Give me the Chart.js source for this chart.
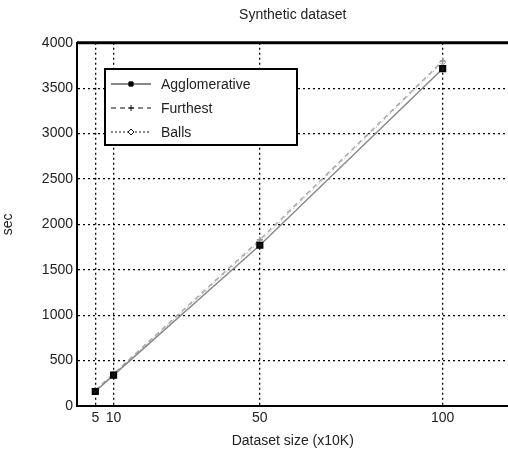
<!DOCTYPE html>
<html>
<head>
  <title>Synthetic dataset</title>
  <script src="https://cdn.jsdelivr.net/npm/chart.js"></script>
  <style>
    html, body { margin: 0; background: #fff; overflow: hidden; }
    /* plot runs off the right edge, as in the cropped original */
    #wrap { width: 514px; height: 450px; }
  </style>
</head>
<body>
  <div id="wrap"><canvas id="chart"></canvas></div>

  <script>
    // values
    const sizes = [5, 10, 50, 100];
    const agglomerative = [160, 340, 1770, 3715];
    const furthest = [175, 355, 1830, 3800];
    const balls = [170, 350, 1810, 3785];
    const xTicks = [5, 10, 50, 100];

    const toPoints = ys => sizes.map((x, i) => ({ x: x, y: ys[i] }));

    // legend drawn inside the plot, like the original figure
    const boxLegend = {
      id: 'boxLegend',
      afterDatasetsDraw(chart) {
        const ctx = chart.ctx;
        const x0 = 105, y0 = 69, w = 192, h = 76;
        ctx.save();
        ctx.fillStyle = '#fff';
        ctx.fillRect(x0, y0, w, h);
        ctx.strokeStyle = '#000';
        ctx.lineWidth = 2;
        ctx.strokeRect(x0, y0, w, h);
        chart.data.datasets.forEach((ds, i) => {
          const y = y0 + 15 + i * 24;
          ctx.strokeStyle = '#111';
          ctx.lineWidth = 1;
          ctx.setLineDash(ds.borderDash || []);
          ctx.beginPath();
          ctx.moveTo(x0 + 6, y);
          ctx.lineTo(x0 + 46, y);
          ctx.stroke();
          ctx.setLineDash([]);
          ctx.fillStyle = i === 0 ? '#000' : '#fff';
          Chart.helpers.drawPoint(ctx, {
            pointStyle: ds.pointStyle, radius: 3, borderWidth: 1, rotation: 0
          }, x0 + 26, y);
          ctx.fillStyle = '#222';
          ctx.font = '14px "Liberation Sans", Arial, sans-serif';
          ctx.textBaseline = 'middle';
          ctx.fillText(ds.label, x0 + 56, y + 1);
        });
        ctx.restore();
      }
    };

    // thick top frame line
    const topFrame = {
      id: 'topFrame',
      afterDraw(chart) {
        const a = chart.chartArea, ctx = chart.ctx;
        ctx.save();
        ctx.strokeStyle = '#000';
        ctx.lineWidth = 3;
        ctx.beginPath();
        ctx.moveTo(a.left, a.top);
        ctx.lineTo(chart.width, a.top);
        ctx.stroke();
        ctx.restore();
      }
    };

    Chart.defaults.font.family = '"Liberation Sans", Arial, sans-serif';
    Chart.defaults.color = '#222';

    new Chart(document.getElementById('chart'), {
      type: 'line',
      data: {
        datasets: [
          {
            label: 'Agglomerative',
            data: toPoints(agglomerative),
            borderColor: '#8a8a8a',
            borderWidth: 1.5,
            pointStyle: 'rect',
            pointRadius: 4,
            pointBackgroundColor: '#111',
            pointBorderColor: '#000',
            order: 0
          },
          {
            label: 'Furthest',
            data: toPoints(furthest),
            borderColor: '#aaa',
            borderWidth: 1.5,
            borderDash: [5, 4],
            pointStyle: 'cross',
            pointRadius: 3,
            pointBorderColor: '#999',
            order: 1
          },
          {
            label: 'Balls',
            data: toPoints(balls),
            borderColor: '#bbb',
            borderWidth: 1,
            borderDash: [2, 2],
            pointStyle: 'rectRot',
            pointRadius: 3,
            pointBackgroundColor: '#fff',
            pointBorderColor: '#999',
            order: 2
          }
        ]
      },
      options: {
        responsive: true,
        maintainAspectRatio: false,
        animation: false,
        layout: { padding: 0 },
        plugins: {
          legend: { display: false },
          tooltip: { enabled: false },
          title: {
            display: true,
            text: 'Synthetic dataset',
            fullSize: false,
            font: { size: 14, weight: 'normal' },
            color: '#222',
            padding: { top: 7, bottom: 19 }
          }
        },
        scales: {
          x: {
            type: 'linear',
            min: 0,
            max: 118,
            afterBuildTicks: s => { s.ticks = xTicks.map(v => ({ value: v })); },
            afterFit: s => { s.height = 44; },
            ticks: { font: { size: 14 }, color: '#222', padding: 4, maxRotation: 0, autoSkip: false },
            grid: { color: '#000', lineWidth: 1.3, drawTicks: false },
            border: { display: true, color: '#000', width: 2, dash: [2, 3] },
            title: { display: true, text: 'Dataset size (x10K)', font: { size: 14 }, color: '#222', padding: { top: 0, bottom: 0 } }
          },
          y: {
            min: 0,
            max: 4000,
            afterFit: s => { s.width = 77; },
            ticks: { stepSize: 500, font: { size: 14 }, color: '#222', padding: 4, callback: v => String(v) },
            grid: { color: '#000', lineWidth: 1.3, drawTicks: false },
            border: { display: true, color: '#000', width: 2, dash: [2, 3] },
            title: { display: true, text: 'sec', font: { size: 14 }, color: '#222', padding: { top: 0, bottom: 0 } }
          }
        }
      },
      plugins: [boxLegend, topFrame]
    });
  </script>
</body>
</html>
